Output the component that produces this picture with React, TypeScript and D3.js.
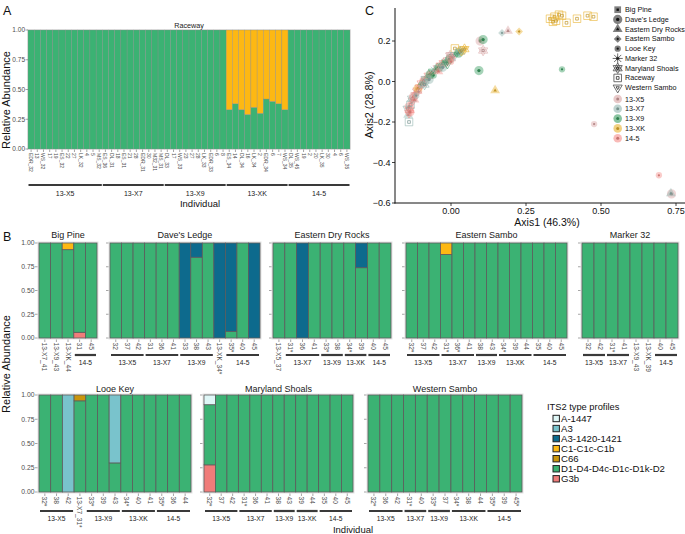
import { useEffect, useRef } from 'react';
import * as d3 from 'd3';

const W = 685;
const H = 534;

// ITS2 type profiles (stack order bottom-up is reverse of this list)
const profiles = ['A-1447', 'A3', 'A3-1420-1421', 'C1-C1c-C1b', 'C66', 'D1-D4-D4c-D1c-D1k-D2', 'G3b'];
const profileColors = ['#dff7f7', '#79c3cc', '#0d6a8d', '#fdb813', '#c9950c', '#3bb273', '#f07c7a'];

const timepoints = ['13-X5', '13-X7', '13-X9', '13-XK', '14-5'];
const timeColors = ['#d9a5a5', '#93b5b0', '#3a9d61', '#e8b22f', '#f58e89'];

const sites = ['Big Pine', "Dave's Ledge", 'Eastern Dry Rocks', 'Eastern Sambo', 'Looe Key', 'Marker 32', 'Maryland Shoals', 'Raceway', 'Western Sambo'];

// ---------- Panel A: Raceway
const raceLabels = [
  'EDR_32', '13', 'WS_32', '17', '19', 'ES_32', '22', '27', 'LK_32', '4', '5', 'MS_32',
  'ES_36', 'DL_31', '18', 'ES_31', '21', '28', 'EDR_31', '30', 'M32_31', 'MS_31',
  'DL_33', '17', 'WS_33', '23', '27', '28', 'LK_33', 'EDR_33', '6', '8',
  'ES_34', '14', 'DL_34', '16', 'LK_34', '2', 'EDR_34', '6', '7', 'WS_34',
  'DL_35', 'WS_45', '19', '2', '20', 'LK_35', '30', '4', '6', 'WS_35',
];
const raceGroups: [string, number, number][] = [
  ['13-X5', 0, 11], ['13-X7', 12, 21], ['13-X9', 22, 31], ['13-XK', 32, 41], ['14-5', 42, 51],
];
// share of D1-D4-D4c-D1c-D1k-D2, rest is C1-C1c-C1b
const raceD1 = [
  1, 1, 1, 1, 1, 1, 1, 1, 1, 1, 1, 1,
  1, 1, 1, 1, 1, 1, 1, 1, 1, 1,
  1, 1, 1, 1, 1, 1, 1, 1, 1, 1,
  0.33, 0.38, 0.33, 0.29, 0.35, 0.30, 0.42, 0.40, 0.38, 0.33,
  1, 1, 1, 1, 1, 1, 1, 1, 1, 1,
];

// ---------- Panel B: facets by site
type Seg = [number, number];
const G: Seg[] = [[5, 1]];

const bigPineLabels = ['13-X7_41', '13-X9_43', '13-XK_44', '31', '45'];
const bigPineGroups: [string, number, number][] = [['14-5', 3, 4]];
const bigPineStacks: Seg[][] = [G, G, [[5, 0.93], [3, 0.07]], [[6, 0.06], [5, 0.94]], G];

const davesLabels = ['32', '37', '42', '31', '36', '41', '33', '38', '43', '13-XK_34*', '35*', '40', '45'];
const davesGroups: [string, number, number][] = [['13-X5', 0, 2], ['13-X7', 3, 5], ['13-X9', 6, 8], ['14-5', 10, 12]];
const davesStacks: Seg[][] = [G, G, G, G, G, G, [[2, 1]], [[5, 0.85], [2, 0.15]], G, [[2, 1]], [[5, 0.07], [2, 0.93]], G, [[2, 1]]];

const edrLabels = ['13-X5_37', '31*', '36', '41', '33*', '38', '34*', '39', '40', '45'];
const edrGroups: [string, number, number][] = [['13-X7', 1, 3], ['13-X9', 4, 5], ['13-XK', 6, 7], ['14-5', 8, 9]];
const edrStacks: Seg[][] = [G, G, [[2, 1]], G, G, G, G, [[5, 0.74], [2, 0.26]], G, G];

const esLabels = ['32*', '37', '42', '31*', '36*', '41', '38', '43', '34*', '39', '44', '35', '40', '45'];
const esGroups: [string, number, number][] = [['13-X5', 0, 2], ['13-X7', 3, 5], ['13-X9', 6, 7], ['13-XK', 8, 10], ['14-5', 11, 13]];
const esStacks: Seg[][] = [G, G, G, [[5, 0.88], [3, 0.12]], G, G, G, G, G, G, G, G, G, G];

const m32Labels = ['32', '42', '31*', '41', '13-X9_43', '13-XK_39', '40', '45'];
const m32Groups: [string, number, number][] = [['13-X5', 0, 1], ['13-X7', 2, 3], ['14-5', 6, 7]];
const m32Stacks: Seg[][] = [G, G, G, G, G, G, G, G];

const lkLabels = ['32*', '38', '42', '13-X7_31*', '33*', '39', '43', '34*', '40', '41', '35*', '36', '44'];
const lkGroups: [string, number, number][] = [['13-X5', 0, 2], ['13-X9', 4, 6], ['13-XK', 7, 9], ['14-5', 10, 12]];
const lkStacks: Seg[][] = [G, G, [[1, 1]], [[5, 0.94], [4, 0.06]], G, G, [[5, 0.30], [1, 0.70]], G, G, G, G, G, G];

const msLabels = ['32*', '37', '42', '31*', '36', '41', '38', '43', '39', '44', '35', '40', '45'];
const msGroups: [string, number, number][] = [['13-X5', 0, 2], ['13-X7', 3, 5], ['13-X9', 6, 7], ['13-XK', 8, 9], ['14-5', 10, 12]];
const msStacks: Seg[][] = [[[6, 0.28], [5, 0.62], [0, 0.10]], G, G, G, G, G, G, G, G, G, G, G, G];

const wsLabels = ['32*', '36', '42', '31*', '40', '33*', '37', '34*', '38', '44', '35*', '39', '45*'];
const wsGroups: [string, number, number][] = [['13-X5', 0, 2], ['13-X7', 3, 4], ['13-X9', 5, 6], ['13-XK', 7, 9], ['14-5', 10, 12]];
const wsStacks: Seg[][] = [G, G, G, G, G, G, G, G, G, G, G, G, G];

// ---------- Panel C: ordination points [Axis1, Axis2, site, timepoint]
const ordPoints: [number, number, number, number][] = [
  [0.33, 0.31, 7, 3], [0.345, 0.32, 7, 3], [0.36, 0.33, 7, 3], [0.34, 0.295, 7, 3], [0.37, 0.325, 7, 3],
  [0.385, 0.29, 7, 3], [0.42, 0.31, 7, 3], [0.455, 0.325, 7, 3], [0.475, 0.32, 7, 3], [0.35, 0.30, 7, 3],
  [0.17, 0.24, 3, 1], [0.19, 0.25, 2, 0], [0.227, 0.247, 3, 3],
  [0.097, 0.2, 1, 0], [0.107, 0.207, 1, 2], [0.107, 0.153, 6, 0], [0.093, 0.054, 1, 2],
  [0.37, 0.06, 4, 2], [0.147, -0.044, 2, 3], [-0.14, -0.2, 7, 1], [0.477, -0.21, 4, 0],
  [0.693, -0.463, 4, 4], [0.735, -0.555, 1, 0], [0.733, -0.553, 2, 1],
  [0.013, 0.163, 7, 3], [0.04, 0.158, 8, 3], [0.045, 0.16, 6, 3], [-0.003, 0.128, 6, 0], [0.0, 0.13, 8, 0],
  [-0.143, -0.165, 2, 1], [-0.14, -0.155, 8, 4], [-0.138, -0.14, 6, 4], [-0.14, -0.125, 1, 4], [-0.135, -0.115, 7, 1],
  [-0.132, -0.105, 4, 4], [-0.128, -0.095, 8, 0], [-0.13, -0.085, 6, 1], [-0.125, -0.075, 1, 4], [-0.12, -0.065, 3, 4],
  [-0.118, -0.055, 5, 0], [-0.112, -0.045, 6, 4], [-0.11, -0.035, 1, 3], [-0.105, -0.03, 8, 4], [-0.1, -0.02, 4, 1],
  [-0.098, -0.01, 6, 4], [-0.095, -0.005, 2, 2], [-0.09, 0.005, 1, 4], [-0.085, 0.012, 8, 1], [-0.08, 0.02, 3, 2],
  [-0.075, 0.028, 6, 4], [-0.07, 0.035, 1, 2], [-0.065, 0.04, 4, 4], [-0.06, 0.048, 8, 2], [-0.055, 0.055, 5, 1],
  [-0.05, 0.06, 3, 2], [-0.045, 0.065, 6, 0], [-0.04, 0.07, 1, 2], [-0.035, 0.078, 8, 4], [-0.03, 0.085, 2, 2],
  [-0.025, 0.09, 6, 4], [-0.02, 0.095, 4, 2], [-0.015, 0.1, 3, 1], [-0.01, 0.105, 8, 0], [-0.005, 0.11, 1, 2],
  [0.0, 0.115, 6, 0], [0.005, 0.12, 3, 4], [0.012, 0.13, 8, 1], [0.02, 0.138, 3, 2], [0.025, 0.14, 1, 2],
  [0.03, 0.148, 6, 1], [0.035, 0.152, 8, 3],
  [-0.122, -0.09, 2, 4], [-0.108, -0.05, 3, 0], [-0.088, -0.015, 6, 1], [-0.073, 0.01, 1, 1], [-0.058, 0.03, 4, 2],
  [-0.042, 0.05, 2, 4], [-0.028, 0.07, 1, 1], [-0.012, 0.088, 8, 2], [0.0, 0.098, 4, 4], [-0.145, -0.135, 8, 1],
  [-0.137, -0.15, 1, 4], [-0.116, -0.07, 4, 1],
];
const ordXTicks = [0, 0.25, 0.5, 0.75];
const ordYTicks = [-0.6, -0.4, -0.2, 0, 0.2];

const FONT = '"Liberation Sans", Arial, Helvetica, sans-serif';
const GREY = '#4d4d4d';

function shapePath(site: number, r: number): string {
  const sym = (t: d3.SymbolType, a: number) => d3.symbol(t, a)() as string;
  switch (site) {
    case 0: return sym(d3.symbolSquare, (r * 1.6) ** 2);
    case 1: return sym(d3.symbolCircle, Math.PI * (r * 1.1) ** 2);
    case 2: return sym(d3.symbolTriangle, r * r * 2.4);
    case 3: return sym(d3.symbolDiamond2, r * r * 2.2);
    case 4: return sym(d3.symbolCircle, Math.PI * (r * 0.75) ** 2);
    case 5: {
      const k = r * 1.2;
      const q = k * 0.707;
      return `M${-k},0L${k},0M0,${-k}L0,${k}M${-q},${-q}L${q},${q}M${-q},${q}L${q},${-q}`;
    }
    case 6: {
      const k = r * 1.25;
      const a = k * 0.866;
      return `M0,${-k}L${a},${k / 2}L${-a},${k / 2}ZM0,${k}L${a},${-k / 2}L${-a},${-k / 2}Z`;
    }
    case 7: {
      const s = r * 0.9;
      return `M${-s},${-s}L${s},${-s}L${s},${s}L${-s},${s}Z`;
    }
    default: {
      const k = r * 1.25;
      const a = k * 0.866;
      return `M0,${k}L${a},${-k / 2}L${-a},${-k / 2}Z`;
    }
  }
}

function drawPoint(
  g: d3.Selection<SVGGElement, unknown, null, undefined>,
  site: number, cx: number, cy: number, color: string, halo: string, haloOpacity: number,
) {
  const filled = site <= 4;
  const big = g.append('path').attr('d', shapePath(site, 4.2)).attr('transform', `translate(${cx},${cy})`);
  if (filled) big.attr('fill', halo).attr('fill-opacity', haloOpacity);
  else big.attr('fill', 'none').attr('stroke', halo).attr('stroke-opacity', Math.min(1, haloOpacity + 0.2)).attr('stroke-width', 0.9);
  const small = g.append('path').attr('d', shapePath(site, 1.5)).attr('transform', `translate(${cx},${cy})`);
  if (filled) small.attr('fill', color);
  else small.attr('fill', 'none').attr('stroke', color).attr('stroke-width', 0.7);
}

function App() {
  const svgRef = useRef<SVGSVGElement>(null);

  useEffect(() => {
    if (!svgRef.current) return;
    const svg = d3.select(svgRef.current);
    svg.selectAll('*').remove();
    svg.attr('font-family', FONT);

    // panel letters
    [['A', 3, 15], ['B', 3, 241], ['C', 365, 15]].forEach(([t, x, y]) => {
      svg.append('text').attr('x', x).attr('y', y).attr('font-size', 12.5).attr('fill', '#111').text(t as string);
    });

    // ================= Panel A =================
    const gA = svg.append('g');
    const ax = d3.scaleBand<number>().domain(d3.range(raceLabels.length)).range([28, 350]).padding(0);
    const ay = d3.scaleLinear().domain([0, 1]).range([149, 30]);
    gA.append('rect').attr('x', 27).attr('y', ay(1) - 1).attr('width', 324).attr('height', ay(0) - ay(1) + 2).attr('fill', '#ebebeb');
    raceD1.forEach((d1, i) => {
      const segs: Seg[] = [[5, d1], [3, 1 - d1]];
      let acc = 0;
      segs.forEach(([p, v]) => {
        if (v <= 0) return;
        gA.append('rect')
          .attr('x', ax(i)!).attr('width', ax.bandwidth())
          .attr('y', ay(acc + v)).attr('height', ay(acc) - ay(acc + v))
          .attr('fill', profileColors[p]).attr('stroke', '#8a8a8a').attr('stroke-width', 0.35);
        acc += v;
      });
    });
    gA.append('text').attr('x', 189).attr('y', 27.5).attr('text-anchor', 'middle').attr('font-size', 7.2).attr('fill', '#1a1a1a').text('Raceway');
    [0, 0.25, 0.5, 0.75, 1].forEach(t => {
      gA.append('line').attr('x1', 25.5).attr('x2', 28).attr('y1', ay(t)).attr('y2', ay(t)).attr('stroke', GREY).attr('stroke-width', 0.5);
      gA.append('text').attr('x', 25).attr('y', ay(t)).attr('dy', '0.35em').attr('text-anchor', 'end')
        .attr('font-size', 6.5).attr('fill', GREY).text(d3.format('.2f')(t));
    });
    raceLabels.forEach((lab, i) => {
      const cx = ax(i)! + ax.bandwidth() / 2;
      gA.append('line').attr('x1', cx).attr('x2', cx).attr('y1', 149.5).attr('y2', 152).attr('stroke', GREY).attr('stroke-width', 0.5);
      gA.append('text').attr('transform', `translate(${cx},153) rotate(90)`).attr('dominant-baseline', 'central')
        .attr('font-size', 5).attr('fill', GREY).text(lab);
    });
    raceGroups.forEach(([name, s, e]) => {
      const x1 = ax(s)! + 0.5;
      const x2 = ax(e)! + ax.bandwidth() - 0.5;
      gA.append('line').attr('x1', x1).attr('x2', x2).attr('y1', 185).attr('y2', 185).attr('stroke', '#3a3a3a').attr('stroke-width', 2.2);
      gA.append('text').attr('x', (x1 + x2) / 2).attr('y', 195.5).attr('text-anchor', 'middle').attr('font-size', 7).attr('fill', '#1a1a1a').text(name);
    });
    gA.append('text').attr('x', 200).attr('y', 206.5).attr('text-anchor', 'middle').attr('font-size', 9.5).attr('fill', '#111').text('Individual');
    gA.append('text').attr('transform', 'translate(9.5,100) rotate(-90)').attr('text-anchor', 'middle').attr('font-size', 11).attr('fill', '#111').text('Relative Abundance');

    // ================= Panel B =================
    const gB = svg.append('g');
    const rowY = [
      { y: d3.scaleLinear().domain([0, 1]).range([338, 243]), title: 238.3, lab: 342.5, line: 355, grp: 364.5 },
      { y: d3.scaleLinear().domain([0, 1]).range([492, 395]), title: 392, lab: 496.5, line: 511, grp: 520.5 },
    ];
    const facetsB = [
      { name: sites[0], labels: bigPineLabels, groups: bigPineGroups, stacks: bigPineStacks, row: 0, x0: 39, x1: 97, yLabels: true },
      { name: sites[1], labels: davesLabels, groups: davesGroups, stacks: davesStacks, row: 0, x0: 110, x1: 260, yLabels: false },
      { name: sites[2], labels: edrLabels, groups: edrGroups, stacks: edrStacks, row: 0, x0: 273, x1: 391, yLabels: false },
      { name: sites[3], labels: esLabels, groups: esGroups, stacks: esStacks, row: 0, x0: 406, x1: 567, yLabels: false },
      { name: sites[5], labels: m32Labels, groups: m32Groups, stacks: m32Stacks, row: 0, x0: 582, x1: 678, yLabels: false },
      { name: sites[4], labels: lkLabels, groups: lkGroups, stacks: lkStacks, row: 1, x0: 39, x1: 191, yLabels: true },
      { name: sites[6], labels: msLabels, groups: msGroups, stacks: msStacks, row: 1, x0: 204, x1: 353, yLabels: false },
      { name: sites[8], labels: wsLabels, groups: wsGroups, stacks: wsStacks, row: 1, x0: 368, x1: 522, yLabels: false },
    ];
    facetsB.forEach(f => {
      const r = rowY[f.row];
      const ys = r.y;
      const xs = d3.scaleBand<number>().domain(d3.range(f.labels.length)).range([f.x0, f.x1]).padding(0);
      gB.append('rect').attr('x', f.x0 - 1.5).attr('y', ys(1) - 1.5).attr('width', f.x1 - f.x0 + 3)
        .attr('height', ys(0) - ys(1) + 3).attr('fill', '#e4e4e4');
      f.stacks.forEach((stack, i) => {
        let acc = 0;
        stack.forEach(([p, v]) => {
          gB.append('rect')
            .attr('x', xs(i)!).attr('width', xs.bandwidth())
            .attr('y', ys(acc + v)).attr('height', ys(acc) - ys(acc + v))
            .attr('fill', profileColors[p]).attr('stroke', '#5c5c5c').attr('stroke-width', 0.8);
          acc += v;
        });
      });
      gB.append('text').attr('x', (f.x0 + f.x1) / 2).attr('y', r.title).attr('text-anchor', 'middle')
        .attr('font-size', 9).attr('fill', '#1a1a1a').text(f.name);
      [0, 0.25, 0.5, 0.75, 1].forEach(t => {
        gB.append('line').attr('x1', f.x0 - 4).attr('x2', f.x0 - 1.5).attr('y1', ys(t)).attr('y2', ys(t)).attr('stroke', GREY).attr('stroke-width', 0.5);
        if (f.yLabels) {
          gB.append('text').attr('x', f.x0 - 4.5).attr('y', ys(t)).attr('dy', '0.35em').attr('text-anchor', 'end')
            .attr('font-size', 6.8).attr('fill', GREY).text(d3.format('.2f')(t));
        }
      });
      f.labels.forEach((lab, i) => {
        const cx = xs(i)! + xs.bandwidth() / 2;
        gB.append('line').attr('x1', cx).attr('x2', cx).attr('y1', ys(0) + 1.5).attr('y2', ys(0) + 4).attr('stroke', GREY).attr('stroke-width', 0.5);
        gB.append('text').attr('transform', `translate(${cx},${r.lab}) rotate(90)`).attr('dominant-baseline', 'central')
          .attr('font-size', 6.6).attr('fill', GREY).text(lab);
      });
      f.groups.forEach(([name, s, e]) => {
        const x1 = xs(s)! + 1;
        const x2 = xs(e)! + xs.bandwidth() - 1;
        gB.append('line').attr('x1', x1).attr('x2', x2).attr('y1', r.line).attr('y2', r.line).attr('stroke', '#3a3a3a').attr('stroke-width', 2.2);
        gB.append('text').attr('x', (x1 + x2) / 2).attr('y', r.grp).attr('text-anchor', 'middle').attr('font-size', 6.7).attr('fill', '#1a1a1a').text(name);
      });
    });
    gB.append('text').attr('x', 353).attr('y', 532.5).attr('text-anchor', 'middle').attr('font-size', 9.5).attr('fill', '#111').text('Individual');
    gB.append('text').attr('transform', 'translate(9.5,364) rotate(-90)').attr('text-anchor', 'middle').attr('font-size', 11).attr('fill', '#111').text('Relative Abundance');

    // legend B
    gB.append('text').attr('x', 547).attr('y', 410).attr('font-size', 9.3).attr('fill', '#111').text('ITS2 type profiles');
    profiles.forEach((p, i) => {
      const cy = 418.5 + i * 10.05;
      gB.append('rect').attr('x', 553).attr('y', cy - 3.2).attr('width', 6.4).attr('height', 6.4)
        .attr('fill', profileColors[i]).attr('stroke', '#222').attr('stroke-width', 1);
      gB.append('text').attr('x', 561).attr('y', cy).attr('dy', '0.36em').attr('font-size', 9.6).attr('fill', '#111').text(p);
    });

    // ================= Panel C =================
    const gC = svg.append('g');
    const cx = d3.scaleLinear().domain([-0.1867, 0.78]).range([395, 685]);
    const cy = d3.scaleLinear().domain([-0.6, 0.3630]).range([203, 8]);
    ordPoints.forEach(([x, y, s, t]) => {
      const col = timeColors[t];
      drawPoint(gC, s, cx(x), cy(y), d3.color(col)!.darker(0.5).formatHex(), col, 0.45);
    });
    gC.append('line').attr('x1', 395).attr('x2', 395).attr('y1', 8).attr('y2', 203.5).attr('stroke', '#111').attr('stroke-width', 1);
    gC.append('line').attr('x1', 394.5).attr('x2', 685).attr('y1', 203).attr('y2', 203).attr('stroke', '#111').attr('stroke-width', 1);
    ordXTicks.forEach(t => {
      gC.append('line').attr('x1', cx(t)).attr('x2', cx(t)).attr('y1', 203).attr('y2', 206).attr('stroke', '#111').attr('stroke-width', 0.8);
      gC.append('text').attr('x', cx(t)).attr('y', 213.8).attr('text-anchor', 'middle').attr('font-size', 9).attr('fill', '#111').text(d3.format('.2f')(t));
    });
    ordYTicks.forEach(t => {
      gC.append('line').attr('x1', 392).attr('x2', 395).attr('y1', cy(t)).attr('y2', cy(t)).attr('stroke', '#111').attr('stroke-width', 0.8);
      gC.append('text').attr('x', 390.5).attr('y', cy(t)).attr('dy', '0.35em').attr('text-anchor', 'end').attr('font-size', 9).attr('fill', '#111')
        .text(d3.format('.1f')(t).replace('-', '\u2212'));
    });
    gC.append('text').attr('x', 547).attr('y', 226).attr('text-anchor', 'middle').attr('font-size', 10.5).attr('fill', '#111').text('Axis1 (46.3%)');
    gC.append('text').attr('transform', 'translate(373,105) rotate(-90)').attr('text-anchor', 'middle').attr('font-size', 10.8).attr('fill', '#111').text('Axis2 (28.8%)');

    // legend C
    sites.forEach((s, i) => {
      const y = 9.7 + i * 9.75;
      drawPoint(gC, i, 617.7, y, '#111', '#555', 0.75);
      gC.append('text').attr('x', 625).attr('y', y).attr('dy', '0.35em').attr('font-size', 7.2).attr('fill', '#111').text(s);
    });
    timepoints.forEach((t, i) => {
      const y = 99 + i * 9.8;
      gC.append('circle').attr('cx', 617.7).attr('cy', y).attr('r', 4.3).attr('fill', timeColors[i]).attr('fill-opacity', 0.6);
      gC.append('circle').attr('cx', 617.7).attr('cy', y).attr('r', 1.5).attr('fill', d3.color(timeColors[i])!.darker(0.6).formatHex());
      gC.append('text').attr('x', 625).attr('y', y).attr('dy', '0.35em').attr('font-size', 7.2).attr('fill', '#111').text(t);
    });
  }, []);

  return (
    <svg ref={svgRef} width={W} height={H} style={{ position: 'absolute', left: 0, top: 0, background: '#fff' }} />
  );
}

export default App;
